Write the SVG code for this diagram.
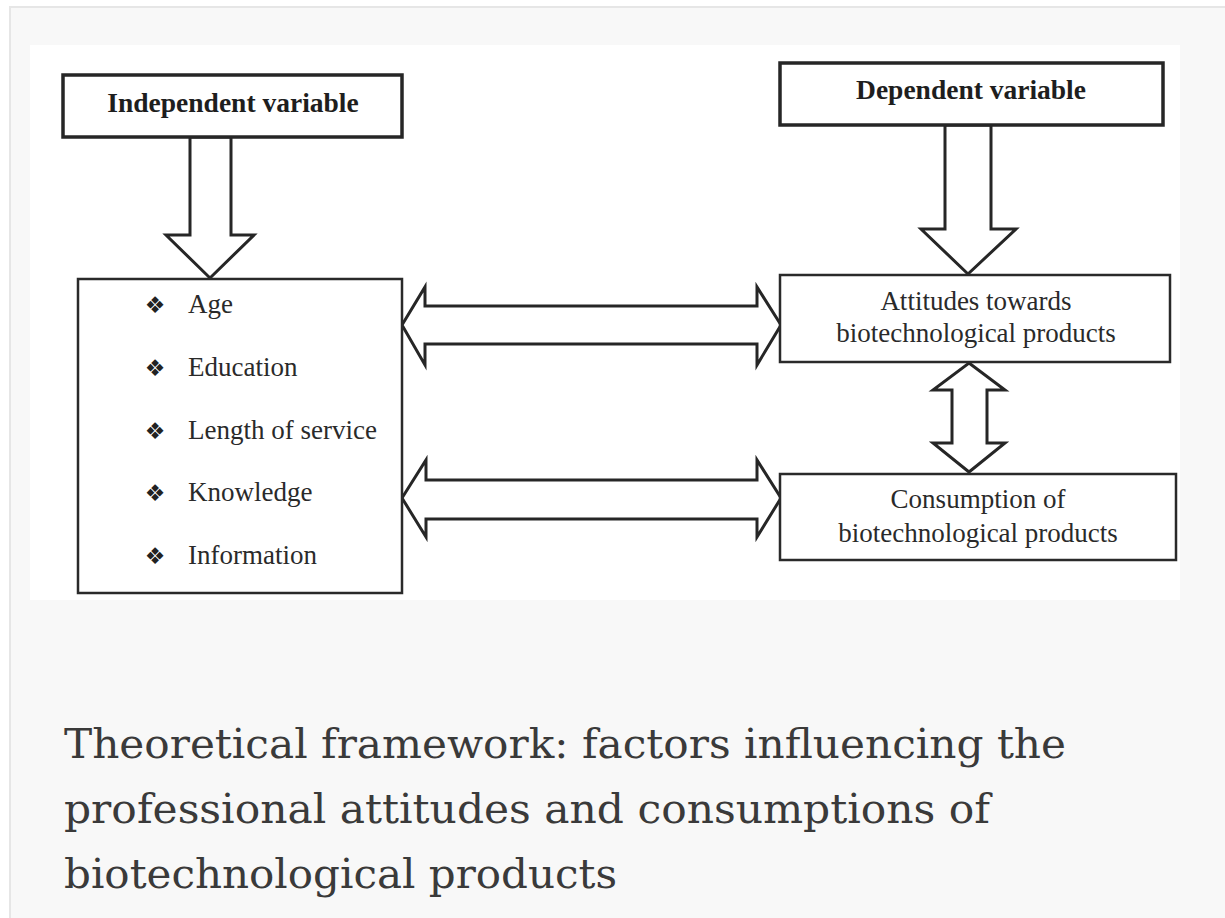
<svg xmlns="http://www.w3.org/2000/svg" width="1225" height="918" viewBox="0 0 1225 918">
<style>
.box{fill:#fff;stroke:#2a2a2a;stroke-width:2.5}
.hbox{fill:#fff;stroke:#262626;stroke-width:3.5}
.arr{fill:#fff;stroke:#262626;stroke-width:3;stroke-linejoin:miter}
.hd{font-family:"Liberation Serif","Times New Roman",serif;font-weight:bold;font-size:27.5px;fill:#1e1e1e;text-anchor:middle}
.lbl{font-family:"Liberation Serif","Times New Roman",serif;font-size:27px;fill:#2a2a2a;text-anchor:middle}
.item{font-family:"Liberation Serif","Times New Roman",serif;font-size:27px;fill:#2a2a2a}
.bul{font-family:"DejaVu Sans",sans-serif;font-size:23px;fill:#222;text-anchor:middle}
.cap{font-family:"DejaVu Serif","Liberation Serif",serif;font-size:41px;fill:#3a3a3a}
</style>
<rect x="0" y="0" width="1225" height="918" fill="#ffffff"/>
<rect x="10" y="7" width="1220" height="915" fill="#f8f8f8" stroke="#e6e6e6" stroke-width="2"/>
<rect x="30" y="45" width="1150" height="555" fill="#ffffff"/>

<g id="connectors">
<polygon class="arr" points="190,137 231,137 231,235 254,235 210,278 166,235 190,235"/>
<polygon class="arr" points="945,125 991,125 991,229 1016,229 968,274 921,229 945,229"/>
<polygon class="arr" points="402,325 425,287 425,306 757,306 757,287 781,325 757,365 757,344 425,344 425,365"/>
<polygon class="arr" points="402,498 426,460 426,480 757,480 757,460 781,498 757,537 757,519 426,519 426,537"/>
<polygon class="arr" points="969,363 1005,390 987,390 987,443 1005,443 969,472 933,443 952,443 952,390 933,390"/>
</g>

<g id="independent-variable">
<rect class="hbox" x="63" y="75" width="339" height="62"/>
<text class="hd" x="233" y="112">Independent variable</text>
</g>

<g id="dependent-variable">
<rect class="hbox" x="780" y="63" width="383" height="62"/>
<text class="hd" x="971" y="99">Dependent variable</text>
</g>

<g id="factors">
<rect class="box" x="78" y="279" width="324" height="314"/>
<text class="bul" x="155" y="313">❖</text>
<text class="item" x="188" y="313">Age</text>
<text class="bul" x="155" y="376">❖</text>
<text class="item" x="188" y="376">Education</text>
<text class="bul" x="155" y="439">❖</text>
<text class="item" x="188" y="439">Length of service</text>
<text class="bul" x="155" y="501">❖</text>
<text class="item" x="188" y="501">Knowledge</text>
<text class="bul" x="155" y="564">❖</text>
<text class="item" x="188" y="564">Information</text>
</g>

<g id="attitudes">
<rect class="box" x="780" y="275" width="390" height="87"/>
<text class="lbl" x="976" y="310">Attitudes towards</text>
<text class="lbl" x="976" y="342">biotechnological products</text>
</g>

<g id="consumption">
<rect class="box" x="780" y="474" width="396" height="86"/>
<text class="lbl" x="978" y="508">Consumption of</text>
<text class="lbl" x="978" y="542">biotechnological products</text>
</g>

<g id="caption">
<text class="cap" x="64" y="758" textLength="1002" lengthAdjust="spacingAndGlyphs">Theoretical framework: factors influencing the</text>
<text class="cap" x="64" y="823" textLength="926" lengthAdjust="spacingAndGlyphs">professional attitudes and consumptions of</text>
<text class="cap" x="64" y="888" textLength="553" lengthAdjust="spacingAndGlyphs">biotechnological products</text>
</g>
</svg>
